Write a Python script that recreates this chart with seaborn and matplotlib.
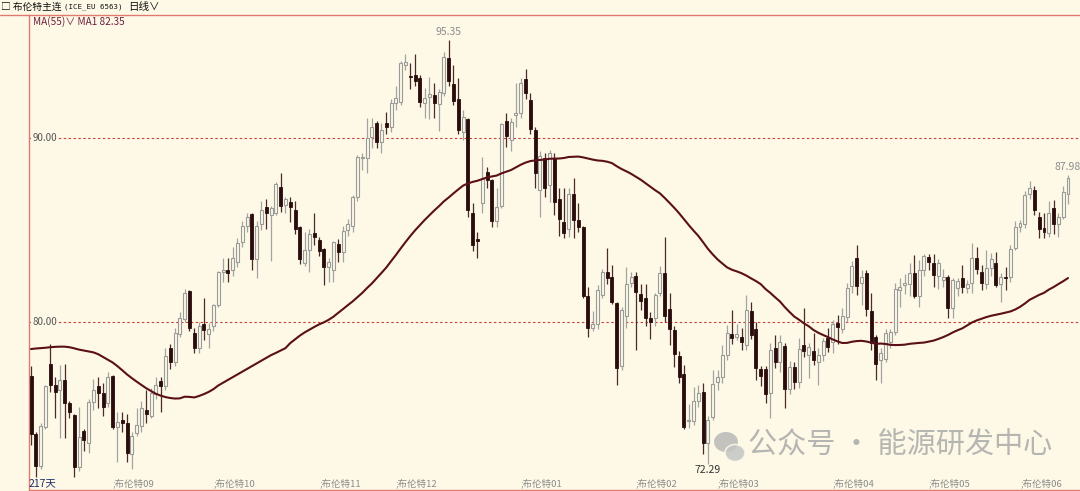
import numpy as np
import pandas as pd
import seaborn as sns
import matplotlib.pyplot as plt
from matplotlib.lines import Line2D
from matplotlib.patches import Ellipse

# 布伦特主连 daily candles (217 days)
opens = [77.07, 73.91, 72.2, 74.3, 77.7, 76.6, 76.3, 76.85, 75.6, 74.95,
         72.1, 74.1, 73.4, 75.65, 76.5, 76.15, 75.6, 77.05, 74.3, 74.65,
         74.5, 72.8, 73.95, 74.35, 75.2, 74.9, 76.1, 76.8, 76.5, 78.6,
         77.8, 79.35, 80.15, 81.7, 79.4, 78.6, 79.9, 79.35, 79.8, 80.9,
         82.7, 82.85, 82.8, 83.25, 84.35, 85.2, 85.85, 83.4, 85.3, 86.25,
         85.8, 85.9, 87.35, 86.35, 86.5, 86.1, 85.15, 83.2, 83.9, 84.85,
         84.45, 83.95, 83.0, 82.8, 84.25, 83.8, 85.0, 85.2, 86.8, 88.9,
         88.9, 90.05, 90.8, 89.8, 90.8, 90.6, 91.9, 91.95, 93.95, 93.35,
         93.45, 93.25, 91.9, 92.25, 92.35, 91.85, 92.45, 94.35, 92.95, 92.1,
         90.35, 91.05, 85.9, 84.5, 86.45, 88.15, 87.7, 85.5, 86.3, 90.9,
         89.9, 91.25, 91.35, 93.2, 92.05, 90.45, 87.2, 88.9, 87.45, 88.9,
         86.7, 85.45, 85.05, 86.95, 85.55, 85.15, 81.4, 79.7, 79.9, 81.45,
         82.7, 82.45, 81.05, 77.6, 80.3, 82.1, 82.5, 81.5, 81.3, 80.2,
         80.2, 81.6, 82.65, 80.7, 79.55, 78.15, 77.15, 74.6, 74.6, 75.7,
         76.2, 73.4, 74.85, 76.75, 77.0, 78.2, 79.35, 79.2, 79.2, 78.75,
         80.6, 79.6, 77.45, 77.45, 76.15, 78.6, 77.8, 78.7, 76.35, 77.55,
         76.75, 78.75, 78.2, 78.45, 77.8, 78.2, 79.15, 78.9, 79.95, 79.6,
         80.25, 81.95, 83.5, 82.1, 82.65, 80.6, 79.2, 77.95, 78.0, 78.9,
         79.45, 81.75, 82.0, 82.05, 82.65, 81.4, 82.8, 83.55, 83.2, 82.5,
         82.3, 82.45, 80.75, 81.85, 82.4, 81.85, 82.1, 83.5, 82.7, 82.05,
         82.95, 83.2, 82.05, 82.45, 82.45, 84.0, 85.15, 85.3, 86.95, 87.2,
         85.7, 85.1, 84.85, 86.2, 85.3, 85.7, 86.95]
highs = [77.6, 74.0, 74.5, 76.6, 78.8, 77.0, 77.65, 77.7, 75.7, 75.0,
         75.4, 74.2, 75.8, 76.9, 77.0, 76.7, 77.3, 77.1, 75.1, 75.1,
         75.0, 74.0, 75.3, 75.7, 76.3, 76.4, 77.0, 77.0, 78.6, 78.8,
         79.7, 80.55, 81.8, 81.75, 79.7, 80.0, 81.3, 79.95, 81.0, 82.75,
         83.5, 83.5, 84.1, 84.55, 85.5, 85.9, 85.95, 85.5, 86.6, 86.7,
         86.3, 87.6, 88.1, 86.8, 86.8, 86.6, 85.2, 84.9, 85.05, 85.9,
         84.6, 84.0, 83.5, 84.4, 84.5, 85.2, 85.6, 86.9, 89.05, 89.2,
         91.1, 91.1, 90.9, 90.8, 91.4, 92.1, 92.85, 94.2, 94.55, 94.1,
         94.55, 93.4, 92.7, 93.3, 93.0, 92.65, 94.7, 95.35, 93.95, 93.25,
         91.5, 91.1, 86.45, 84.9, 88.95, 88.4, 87.75, 87.3, 90.8, 91.35,
         91.1, 93.0, 93.25, 93.75, 92.45, 90.6, 89.3, 89.2, 89.35, 89.2,
         87.3, 87.3, 87.3, 87.8, 86.45, 85.2, 81.9, 80.6, 82.0, 82.9,
         84.0, 83.1, 81.1, 80.8, 83.0, 82.7, 82.7, 82.05, 82.05, 80.55,
         81.6, 83.05, 84.6, 81.6, 79.8, 78.4, 77.65, 75.55, 76.45, 76.6,
         76.7, 74.9, 77.4, 77.4, 78.75, 79.85, 80.65, 79.9, 79.65, 81.45,
         81.1, 80.0, 77.6, 77.6, 78.85, 79.3, 79.3, 78.85, 77.9, 77.85,
         79.15, 80.75, 78.85, 79.4, 78.6, 79.15, 79.7, 80.1, 80.4, 80.75,
         82.1, 83.3, 84.2, 82.8, 82.8, 81.6, 79.3, 78.6, 79.6, 79.6,
         82.1, 82.4, 82.6, 83.2, 83.65, 83.35, 83.7, 83.7, 83.7, 83.4,
         82.9, 82.55, 82.4, 82.4, 83.1, 82.3, 84.3, 84.1, 83.1, 83.9,
         83.75, 83.8, 82.65, 83.0, 84.2, 85.5, 85.55, 87.1, 87.65, 87.4,
         86.0, 85.9, 86.55, 86.65, 85.9, 87.4, 87.98]
lows = [73.3, 71.6, 72.0, 74.2, 76.2, 74.8, 73.7, 73.7, 74.8, 71.6,
        71.9, 73.0, 72.9, 75.2, 75.3, 74.9, 75.4, 74.2, 72.4, 74.0,
        72.4, 72.0, 73.8, 74.0, 74.5, 74.8, 75.8, 75.1, 76.3, 77.45,
        77.6, 79.2, 80.0, 79.5, 78.3, 78.3, 79.0, 78.6, 79.5, 80.8,
        82.2, 82.2, 82.5, 83.0, 84.1, 84.9, 82.8, 82.4, 85.0, 85.05,
        83.3, 85.8, 86.0, 85.9, 85.45, 84.8, 83.15, 83.05, 82.7, 84.2,
        83.6, 82.0, 82.2, 82.2, 83.25, 83.25, 84.7, 84.9, 86.6, 88.25,
        88.1, 89.45, 89.45, 89.2, 90.2, 90.3, 91.5, 91.8, 93.7, 92.65,
        92.8, 91.7, 91.1, 91.05, 91.1, 90.4, 92.3, 92.8, 91.8, 90.2,
        89.9, 85.7, 83.85, 83.5, 85.9, 87.3, 85.15, 85.15, 86.2, 89.5,
        89.3, 90.6, 91.1, 92.1, 90.2, 87.3, 85.7, 86.8, 86.5, 85.8,
        84.7, 84.55, 84.6, 84.55, 84.9, 81.3, 79.2, 79.5, 79.6, 81.3,
        82.05, 81.0, 76.6, 77.4, 79.7, 81.9, 78.5, 80.65, 79.8, 79.1,
        79.8, 81.4, 80.0, 78.75, 77.55, 76.7, 74.2, 74.25, 74.4, 75.4,
        72.8, 72.29, 74.7, 76.3, 76.7, 77.95, 78.8, 79.0, 78.5, 78.5,
        79.1, 76.85, 76.5, 75.6, 74.8, 77.5, 77.3, 75.3, 76.1, 76.35,
        76.4, 78.1, 76.95, 77.65, 76.6, 77.9, 78.35, 78.3, 78.8, 79.4,
        80.0, 81.6, 81.45, 80.9, 80.35, 78.5, 76.85, 76.7, 77.8, 78.6,
        79.3, 80.8, 81.5, 81.4, 81.3, 80.8, 82.5, 82.8, 81.9, 81.8,
        81.9, 80.2, 80.2, 81.4, 81.6, 81.6, 81.6, 82.6, 81.75, 81.8,
        82.5, 81.9, 81.1, 81.75, 82.2, 83.9, 84.9, 85.1, 86.7, 85.8,
        84.55, 84.55, 84.6, 84.8, 84.6, 85.6, 86.4]
closes = [73.91, 72.2, 74.35, 76.5, 76.6, 76.2, 76.85, 75.6, 75.1, 72.1,
          73.75, 73.6, 75.65, 76.3, 76.15, 75.4, 77.0, 74.3, 74.55, 74.5,
          72.9, 73.8, 74.4, 75.3, 75.0, 76.15, 76.6, 76.5, 78.15, 77.8,
          79.4, 80.2, 81.6, 79.7, 78.6, 79.8, 79.55, 79.6, 80.9, 82.7,
          82.85, 82.65, 83.5, 84.3, 85.2, 85.7, 83.4, 85.2, 86.1, 85.9,
          86.2, 87.5, 86.3, 86.7, 86.25, 85.05, 83.4, 83.9, 84.8, 84.6,
          83.85, 83.0, 83.25, 84.35, 83.8, 84.95, 85.3, 86.8, 88.95, 88.95,
          90.0, 90.6, 89.8, 90.45, 90.6, 91.9, 92.2, 94.1, 94.15, 93.3,
          93.1, 91.95, 92.2, 92.4, 91.9, 92.5, 94.4, 93.1, 92.0, 90.45,
          91.15, 86.1, 84.2, 84.4, 87.75, 87.7, 85.5, 86.25, 90.75, 90.1,
          90.85, 91.35, 93.0, 92.45, 90.5, 88.1, 89.0, 87.3, 89.2, 86.5,
          85.6, 84.85, 86.95, 85.55, 85.15, 81.4, 79.7, 79.9, 81.75, 82.7,
          82.4, 81.1, 77.5, 80.65, 82.05, 82.45, 81.65, 81.15, 80.2, 80.0,
          81.45, 82.65, 80.3, 79.6, 78.25, 77.0, 74.3, 74.7, 75.7, 76.15,
          73.4, 74.7, 76.65, 77.0, 78.2, 79.4, 79.15, 79.35, 78.9, 80.65,
          79.3, 77.5, 77.05, 76.1, 78.5, 77.8, 78.9, 76.35, 77.55, 76.75,
          78.55, 78.4, 78.65, 77.95, 78.2, 78.95, 78.65, 79.9, 79.75, 80.3,
          81.85, 83.05, 81.95, 82.45, 80.7, 78.85, 77.7, 78.3, 79.4, 79.45,
          81.8, 81.9, 82.1, 82.65, 81.4, 82.85, 83.6, 83.25, 82.55, 83.2,
          82.45, 80.75, 82.3, 82.25, 81.9, 82.05, 83.5, 82.9, 82.1, 82.95,
          83.45, 82.0, 82.45, 82.4, 83.95, 85.15, 85.4, 86.9, 87.3, 86.1,
          85.05, 84.9, 85.95, 85.3, 85.7, 87.05, 87.8]
# MA(55) for the first 54 days (history before the window)
ma_head = [78.53, 78.56, 78.58, 78.6, 78.63, 78.65, 78.66, 78.66, 78.63, 78.57,
           78.5, 78.45, 78.4, 78.35, 78.25, 78.1, 77.95, 77.8, 77.6, 77.38,
           77.15, 76.95, 76.76, 76.58, 76.4, 76.25, 76.1, 76.0, 75.92, 75.87,
           75.84, 75.85, 75.94, 75.93, 75.9, 75.98, 76.08, 76.2, 76.35, 76.55,
           76.7, 76.85, 77.0, 77.15, 77.3, 77.45, 77.6, 77.75, 77.9, 78.05,
           78.2, 78.32, 78.45, 78.58]

tick_pos = [17, 38, 60, 76, 102, 126, 143, 167, 187, 206]
tick_labels = [';布伦特09', ';布伦特10', ';布伦特11', ';布伦特12', ';布伦特01',
               ';布伦特02', ';布伦特03', ';布伦特04', ';布伦特05', ';布伦特06']
grid_levels = [80, 90]
# days whose extremes carry a price label: (day, which)
marked = [(87, 'high'), (141, 'low'), (216, 'high')]

bg = '#FDF9E6'
sns.set_style('white', {'axes.facecolor': bg, 'figure.facecolor': bg})
plt.rcParams['font.family'] = ['Noto Sans CJK SC', 'DejaVu Sans']

df = pd.DataFrame({'open': opens, 'high': highs, 'low': lows, 'close': closes})
df['day'] = np.arange(len(df))
ma = df['close'].rolling(55).mean()
ma.iloc[:len(ma_head)] = ma_head
df['ma'] = ma
up = df['close'] >= df['open']

fig = plt.figure(figsize=(10.8, 4.91), dpi=100)
ax = fig.add_axes([29 / 1080, 1 / 491, 1051 / 1080, 475 / 491])

# wicks
ax.vlines(df.loc[up, 'day'], df.loc[up, 'low'], df.loc[up, 'high'], color='#a3a3a3', lw=0.9, zorder=2)
ax.vlines(df.loc[~up, 'day'], df.loc[~up, 'low'], df.loc[~up, 'high'], color='#4a2a2a', lw=0.9, zorder=2)
# bodies
body = np.maximum((df['close'] - df['open']).abs(), 0.07)
bottom = df[['open', 'close']].min(axis=1)
ax.bar(df.loc[up, 'day'], body[up], bottom=bottom[up], width=0.62,
       color=bg, edgecolor='#9a9a9a', linewidth=0.8, zorder=3)
ax.bar(df.loc[~up, 'day'], body[~up], bottom=bottom[~up], width=0.62,
       color='#2a0c0c', edgecolor='#2a0c0c', linewidth=0.6, zorder=3)

sns.lineplot(data=df, x='day', y='ma', color='#5a1014', linewidth=1.5, ax=ax, zorder=4)

for lv in grid_levels:
    ax.axhline(lv, color='#c8403c', lw=0.8, ls=(0, (2.2, 2.2)), zorder=1)
    ax.text(0.003, lv, f'{lv:.2f}', transform=ax.get_yaxis_transform(), ha='left', va='center',
            fontsize=7, color='#555555', zorder=5,
            bbox=dict(facecolor=bg, edgecolor='none', pad=0.5))

ax.set_xlim(-0.42, 218.5)
ax.set_ylim(70.87, 96.685)
ax.set_xticks([])
ax.set_yticks([])
ax.set_xlabel('')
ax.set_ylabel('')
for s in ['top', 'right']:
    ax.spines[s].set_visible(False)
for s in ['left', 'bottom']:
    ax.spines[s].set_color('#e07a70')
    ax.spines[s].set_linewidth(1.0)

# contract labels along the bottom
for p, lab in zip(tick_pos, tick_labels):
    ax.text(p, 0.013, lab, transform=ax.get_xaxis_transform(), ha='left', va='center',
            fontsize=6.8, color='#8a8a8a')
ax.text(0.0, 0.015, '217天', transform=ax.transAxes, ha='left', va='center',
        fontsize=7.5, color='#1c2a6a')

# price labels on the marked extremes
for d, which in marked:
    v = df.loc[d, which]
    if which == 'high':
        ax.annotate(f'{v:.2f}', xy=(d, v), xytext=(0, 2), textcoords='offset points',
                    ha='center', va='bottom', fontsize=7.5, color='#8c8c8c')
    else:
        ax.annotate(f'{v:.2f}', xy=(d, v), xytext=(0, -1), textcoords='offset points',
                    ha='center', va='top', fontsize=7.5, color='#333333')

# header
fig.add_artist(Line2D([0, 1], [476 / 491, 476 / 491], color='#e07a70', lw=1.0))
fig.text(1 / 1080, 484 / 491, '□ 布伦特主连', ha='left', va='center', fontsize=7.0, color='#111111')
fig.text(64 / 1080, 484 / 491, '(ICE_EU 6563)', ha='left', va='center', fontsize=5.3,
         color='#111111', family='DejaVu Sans Mono')
fig.text(128 / 1080, 484 / 491, '日线∨', ha='left', va='center', fontsize=7.6, color='#111111')
ax.text(4 / 1051, (490 - 22) / 475, 'MA(55)∨ MA1 82.35', transform=ax.transAxes, ha='left', va='center',
        fontsize=7.2, color='#6e1f3c')

# watermark
def ax_xy(px, py):
    return ((px - 29) / 1051, (490 - py) / 475)

ax.add_patch(Ellipse(ax_xy(726, 442), 24 / 1051, 20 / 475, transform=ax.transAxes,
                     facecolor='#b5b5b5', edgecolor='none', alpha=0.8, zorder=6))
ax.add_patch(Ellipse(ax_xy(735, 453), 20 / 1051, 17 / 475, transform=ax.transAxes,
                     facecolor='#c4c4c4', edgecolor=bg, lw=1.2, alpha=0.85, zorder=6))
x0, y0 = ax_xy(748, 446)
ax.text(x0, y0, '公众号 · 能源研发中心', transform=ax.transAxes, ha='left', va='center',
        fontsize=21, color='#a9a9a9', alpha=0.85, zorder=6)

fig.savefig('out.png', dpi=100, facecolor=bg)
